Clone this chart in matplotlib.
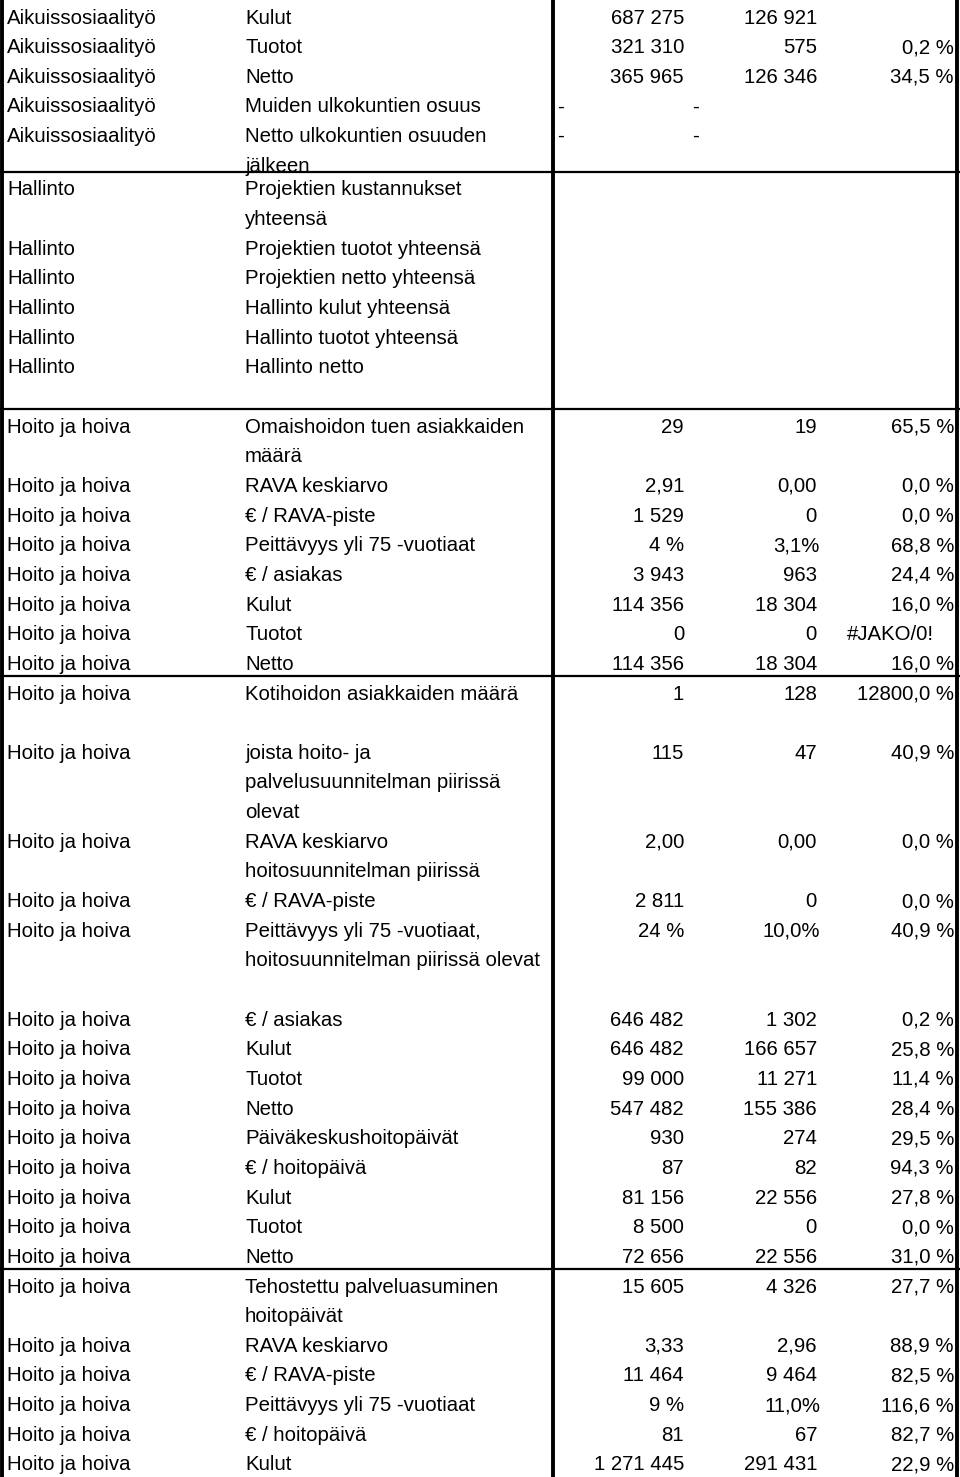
import matplotlib
matplotlib.use("Agg")
import matplotlib.pyplot as plt
from matplotlib.patches import Rectangle

plt.rcParams['font.family'] = ['Liberation Sans', 'DejaVu Sans']

# table contents
categories = (["Aikuissosiaalityö"] * 5 + ["Hallinto"] * 6 + ["Hoito ja hoiva"] * 28)
labels = [
    "Kulut", "Tuotot", "Netto", "Muiden ulkokuntien osuus",
    "Netto ulkokuntien osuuden\njälkeen",
    "Projektien kustannukset\nyhteensä", "Projektien tuotot yhteensä",
    "Projektien netto yhteensä", "Hallinto kulut yhteensä",
    "Hallinto tuotot yhteensä", "Hallinto netto",
    "Omaishoidon tuen asiakkaiden\nmäärä", "RAVA keskiarvo", "€ / RAVA-piste",
    "Peittävyys yli 75 -vuotiaat", "€ / asiakas", "Kulut", "Tuotot", "Netto",
    "Kotihoidon asiakkaiden määrä",
    "joista hoito- ja\npalvelusuunnitelman piirissä\nolevat",
    "RAVA keskiarvo\nhoitosuunnitelman piirissä", "€ / RAVA-piste",
    "Peittävyys yli 75 -vuotiaat,\nhoitosuunnitelman piirissä olevat",
    "€ / asiakas", "Kulut", "Tuotot", "Netto", "Päiväkeskushoitopäivät",
    "€ / hoitopäivä", "Kulut", "Tuotot", "Netto",
    "Tehostettu palveluasuminen\nhoitopäivät", "RAVA keskiarvo",
    "€ / RAVA-piste", "Peittävyys yli 75 -vuotiaat", "€ / hoitopäivä", "Kulut",
]
values1 = [
    "687 275", "321 310", "365 965", "-", "-",
    "", "", "", "", "", "",
    "29", "2,91", "1 529", "4 %", "3 943", "114 356", "0", "114 356",
    "1", "115", "2,00", "2 811", "24 %",
    "646 482", "646 482", "99 000", "547 482", "930", "87", "81 156", "8 500", "72 656",
    "15 605", "3,33", "11 464", "9 %", "81", "1 271 445",
]
values2 = [
    "126 921", "575", "126 346", "-", "-",
    "", "", "", "", "", "",
    "19", "0,00", "0", "3,1%", "963", "18 304", "0", "18 304",
    "128", "47", "0,00", "0", "10,0%",
    "1 302", "166 657", "11 271", "155 386", "274", "82", "22 556", "0", "22 556",
    "4 326", "2,96", "9 464", "11,0%", "67", "291 431",
]
ratio = [
    "", "0,2 %", "34,5 %", "", "",
    "", "", "", "", "", "",
    "65,5 %", "0,0 %", "0,0 %", "68,8 %", "24,4 %", "16,0 %", "#JAKO/0!", "16,0 %",
    "12800,0 %", "40,9 %", "0,0 %", "0,0 %", "40,9 %",
    "0,2 %", "25,8 %", "11,4 %", "28,4 %", "29,5 %", "94,3 %", "27,8 %", "0,0 %", "31,0 %",
    "27,7 %", "88,9 %", "82,5 %", "116,6 %", "82,7 %", "22,9 %",
]
# row heights in text lines, and rows followed by a rule
row_lines = [1, 1, 1, 1, 1.8, 2, 1, 1, 1, 1, 2,
             2, 1, 1, 1, 1, 1, 1, 1,
             2, 3, 2, 1, 3, 1, 1, 1, 1, 1, 1, 1, 1, 1,
             2, 1, 1, 1, 1, 1]
rule_after = [4, 10, 18, 32]

W, H = 960, 1477
LH = 29.65
BASE = 23.5
FS = 14.7
x_cat, x_lab = 7, 245
x_v1, x_v2, x_pct = 684, 817, 954
x_dash1, x_dash2 = 557, 692

fig = plt.figure(figsize=(W / 100, H / 100), dpi=100)
ax = fig.add_axes([0, 0, 1, 1])
ax.set_xlim(0, W)
ax.set_ylim(H, 0)
ax.axis('off')

top = 0.0
for i, cat in enumerate(categories):
    h = row_lines[i] * LH
    clip = Rectangle((0, top), W, h, transform=ax.transData)
    y0 = top + BASE
    kw = dict(fontsize=FS, va='baseline', color='black')
    t = ax.text(x_cat, y0, cat, ha='left', **kw)
    t.set_clip_path(clip)
    for k, line in enumerate(labels[i].split("\n")):
        t = ax.text(x_lab, y0 + k * LH, line, ha='left', **kw)
        t.set_clip_path(clip)
    for val, xr, xd in ((values1[i], x_v1, x_dash1), (values2[i], x_v2, x_dash2)):
        if val == "-":
            ax.text(xd, y0, val, ha='left', **kw)
        elif val:
            # plain "n,n%" cells sit a little further right in the sheet
            shift = 3 if val.endswith("%") and not val.endswith(" %") else 0
            ax.text(xr + shift, y0, val, ha='right', **kw)
    if ratio[i].startswith("#"):
        ax.text(890, y0, ratio[i], ha='center', **kw)
    elif ratio[i]:
        ax.text(x_pct, y0, ratio[i], ha='right', **kw)
    top += h
    if i in rule_after:
        ax.plot([0, W], [top, top], color='black', lw=1.6, solid_capstyle='butt')

for xv in (2.0, 552.5, 957.0):
    ax.plot([xv, xv], [0, H], color='black', lw=2.8, solid_capstyle='butt')

fig.savefig("out.png", dpi=100)
